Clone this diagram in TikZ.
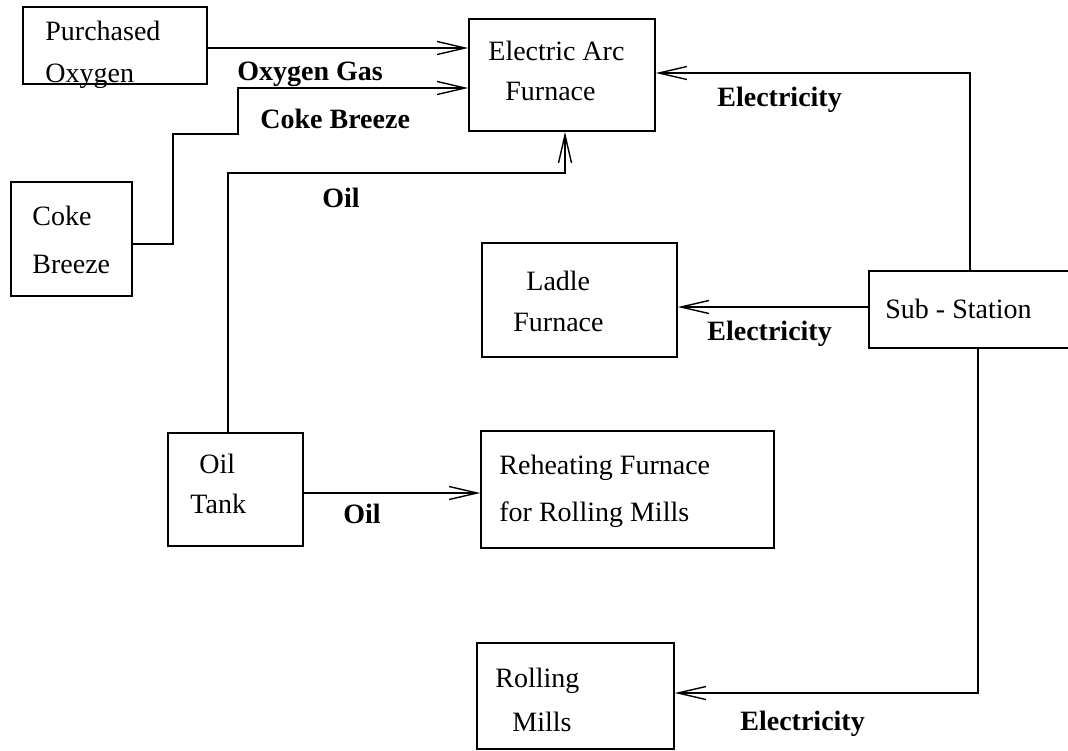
\documentclass[tikz,border=0pt]{standalone}
\usepackage{fontspec}
\setmainfont{Liberation Serif}
\usetikzlibrary{arrows.meta,fit}
\begin{document}
\begin{tikzpicture}[x=0.5pt,y=-0.5pt,
  box/.style={draw,line width=0.8pt,inner sep=0pt},
  txt/.style={font=\fontsize{14}{16}\selectfont,inner sep=0pt,anchor=base west},
  lbl/.style={font=\fontsize{14}{16}\selectfont\bfseries,inner sep=0pt,anchor=base west},
  conn/.style={line width=0.8pt},
  arr/.style={conn,-{Straight Barb[length=14pt,width=6.5pt,line width=0.7pt]}}]
\useasboundingbox (0,0) rectangle (1068,750);
\fill[white] (0,0) rectangle (1068,750);
\clip (0,0) rectangle (1068,750);
% boxes
\node[box,fit={(23,7) (207,84)}] (po) {};
\node[box,fit={(469,19) (655,131)}] (eaf) {};
\node[box,fit={(11,182) (132,296)}] (cb) {};
\node[box,fit={(482,243) (677,357)}] (lf) {};
\node[box,fit={(869,271) (1080,348)}] (ss) {};
\node[box,fit={(168,433) (303,546)}] (ot) {};
\node[box,fit={(481,431) (774,548)}] (rf) {};
\node[box,fit={(477,643) (674,749)}] (rm) {};
% box texts
\node[txt] (po1) at (45,40) {Purchased};
\node[txt] (po2) at (45,82) {Oxygen};
\node[txt] (eaf1) at (488,60) {Electric Arc};
\node[txt] (eaf2) at (505,100) {Furnace};
\node[txt] (cb1) at (32,225) {Coke};
\node[txt] (cb2) at (32,273) {Breeze};
\node[txt] (lf1) at (526,290) {Ladle};
\node[txt] (lf2) at (513,331) {Furnace};
\node[txt] (ss1) at (885,318) {Sub - Station};
\node[txt] (ot1) at (199,473) {Oil};
\node[txt] (ot2) at (190,513) {Tank};
\node[txt] (rf1) at (499,474) {Reheating Furnace};
\node[txt] (rf2) at (499,521) {for Rolling Mills};
\node[txt] (rm1) at (495,687) {Rolling};
\node[txt] (rm2) at (512,731) {Mills};
% connector labels
\node[lbl] (l1) at (237,80) {Oxygen Gas};
\node[lbl] (l2) at (260,128) {Coke Breeze};
\node[lbl] (l3) at (322,207) {Oil};
\node[lbl] (l4) at (717,106) {Electricity};
\node[lbl] (l5) at (707,340) {Electricity};
\node[lbl] (l6) at (343,523) {Oil};
\node[lbl] (l7) at (740,730) {Electricity};
% connectors
\draw[arr] (po.east |- 0,48) -- (eaf.west |- 0,48);
\draw[arr] (cb.east |- 0,244) -| (173,134) -| (238,88) -- (eaf.west |- 0,88);
\draw[arr] (228,0 |- ot.north) |- (565,173) -- (565,0 |- eaf.south);
\draw[arr] (970,0 |- ss.north) |- (eaf.east |- 0,73);
\draw[arr] (ss.west |- 0,307) -- (lf.east |- 0,307);
\draw[arr] (978,0 |- ss.south) |- (rm.east |- 0,693);
\draw[arr] (ot.east |- 0,493) -- (rf.west |- 0,493);
\end{tikzpicture}
\end{document}
